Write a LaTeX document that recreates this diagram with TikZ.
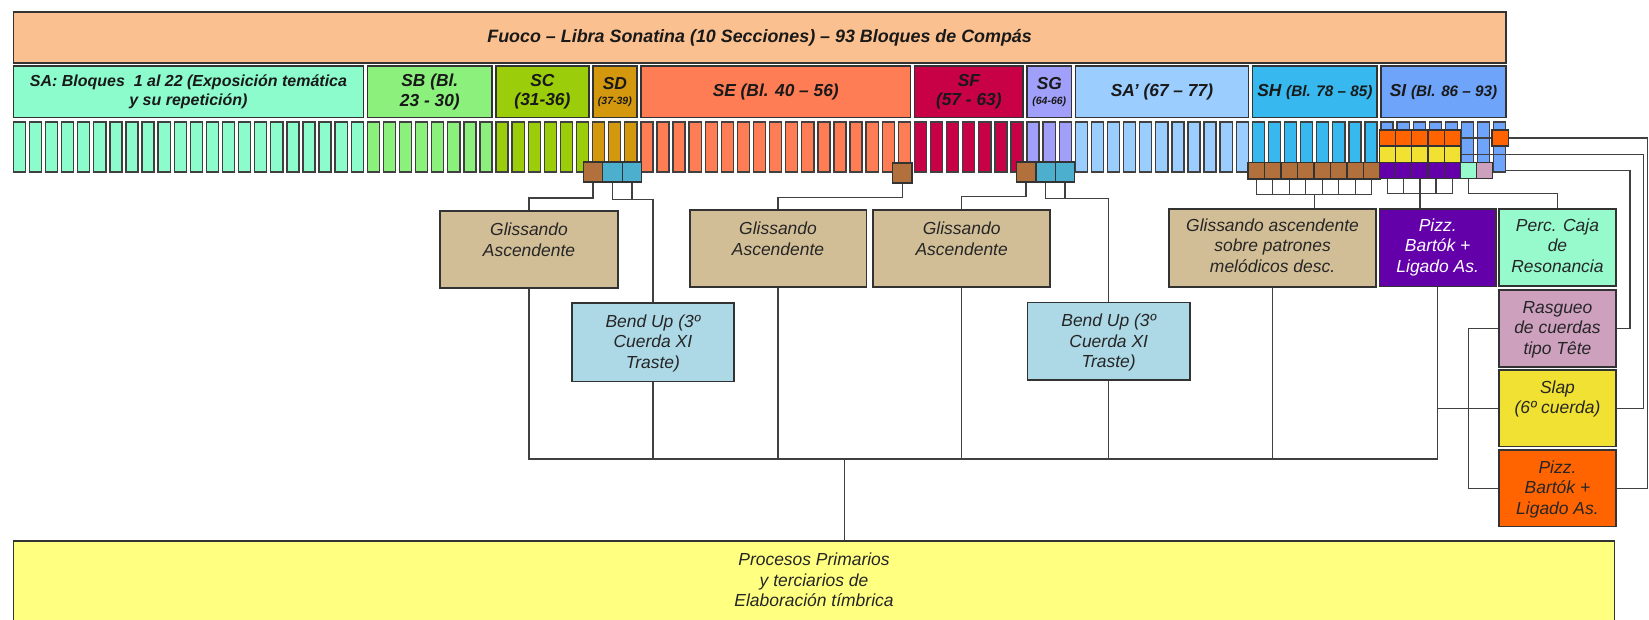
\documentclass[tikz,border=0pt]{standalone}
\usepackage{fontspec}
\setmainfont{Liberation Sans}
\usetikzlibrary{calc}

% section colours
\definecolor{cTitle}{RGB}{250,192,143}
\definecolor{cSA}{RGB}{140,252,205}
\definecolor{cSB}{RGB}{140,240,125}
\definecolor{cSC}{RGB}{155,205,10}
\definecolor{cSD}{RGB}{212,152,15}
\definecolor{cSE}{RGB}{255,125,85}
\definecolor{cSF}{RGB}{200,0,70}
\definecolor{cSG}{RGB}{160,160,250}
\definecolor{cSAp}{RGB}{155,205,255}
\definecolor{cSH}{RGB}{55,185,240}
\definecolor{cSI}{RGB}{110,165,250}
% technique colours
\definecolor{cBrown}{RGB}{178,112,60}
\definecolor{cBlue}{RGB}{75,175,205}
\definecolor{cTan}{RGB}{210,190,150}
\definecolor{cLBlue}{RGB}{173,216,230}
\definecolor{cPurple}{RGB}{100,0,170}
\definecolor{cMint}{RGB}{150,250,205}
\definecolor{cPink}{RGB}{205,160,190}
\definecolor{cYellow}{RGB}{240,225,50}
\definecolor{cOrange}{RGB}{255,100,0}
\definecolor{cProc}{RGB}{255,255,128}

% box text: width, height, first baseline, lines
\newcommand{\bxt}[4]{\parbox[c][#2][t]{#1}{\centering\rule{0pt}{#3}#4}}

\tikzset{
  frame/.style={draw=black!80, line width=1.6pt},
  blk/.style={draw=black!75, line width=1.3pt, minimum width=11.5pt,
    minimum height=47.5pt, inner sep=0pt, anchor=north west},
  sec/.style={frame, inner sep=0pt, anchor=north west, minimum height=49pt,
    font=\bfseries\itshape\fontsize{16.5}{18.5}\selectfont, text=black!90, align=center},
  mk/.style={draw=black!80, line width=1.3pt, inner sep=0pt, anchor=north west,
    minimum width=18.5pt, minimum height=19pt},
  sm/.style={draw=black!80, line width=1.2pt, inner sep=0pt, anchor=north west,
    minimum width=15.5pt, minimum height=15.3pt},
  conn/.style={draw=black!75, line width=1.2pt},
  tbox/.style={frame, inner sep=0pt, anchor=north west,
    font=\itshape\fontsize{16.6}{19.5}\selectfont, text=black!85},
}

\begin{document}
\begin{tikzpicture}[x=1pt, y=-1pt]
\useasboundingbox (0,0) rectangle (1568,589);
\clip (0,0) rectangle (1568,589);
\fill[white] (0,0) rectangle (1568,589);

% title
\node[frame, fill=cTitle, anchor=north west, minimum width=1419pt, minimum height=48.5pt,
  inner sep=0pt, font=\bfseries\itshape\fontsize{17}{20}\selectfont, text=black!90]
  (title) at (12,10.5) {Fuoco – Libra Sonatina (10 Secciones) – 93 Bloques de Compás};

% sections
\node[sec, fill=cSA, minimum width=332.8pt, font=\bfseries\itshape\fontsize{15.2}{18.5}\selectfont]
  (sA) at (12,62) {SA: Bloques\ \ 1 al 22 (Exposición temática\\y su repetición)};
\node[sec, fill=cSB, minimum width=118.6pt] (sB) at (348.6,62) {SB (Bl.\\23 - 30)};
\node[sec, fill=cSC, minimum width=88pt] (sC) at (471,62) {SC\\(31-36)};
\node[sec, fill=cSD, minimum width=42.1pt] (sD) at (562.8,62)
  {SD\\[-4pt]{\fontsize{10}{12}\selectfont(37-39)}};
\node[sec, fill=cSE, minimum width=256.3pt] (sE) at (608.7,62) {SE (Bl. 40 – 56)};
\node[sec, fill=cSF, minimum width=103.3pt] (sF) at (868.8,62) {SF\\(57 - 63)};
\node[sec, fill=cSG, minimum width=42.1pt] (sG) at (975.9,62)
  {SG\\[-4pt]{\fontsize{10}{12}\selectfont(64-66)}};
\node[sec, fill=cSAp, minimum width=164.5pt] (sAp) at (1021.8,62) {SA’ (67 – 77)};
\node[sec, fill=cSH, minimum width=118.6pt] (sH) at (1190.1,62)
  {SH {\fontsize{14.5}{17}\selectfont(Bl. 78 – 85)}};
\node[sec, fill=cSI, minimum width=118.6pt] (sI) at (1312.5,62)
  {SI {\fontsize{14.5}{17}\selectfont(Bl. 86 – 93)}};

% the 93 bar blocks
\foreach \ia/\ib/\col in {1/22/cSA,23/30/cSB,31/36/cSC,37/39/cSD,40/56/cSE,
    57/63/cSF,64/66/cSG,67/77/cSAp,78/85/cSH,86/93/cSI}{
  \foreach \k in {\ia,...,\ib}{
    \node[blk, fill=\col] (b\k) at ({12+(\k-1)*15.3},115.5) {};
  }
}

% technique boxes
\node[tbox, fill=cTan] (g1) at (417.8,199.7)
  {\bxt{168.9pt}{73.5pt}{23.8pt}{Glissando\\Ascendente}};
\node[tbox, fill=cLBlue] (bu1) at (543,287.5)
  {\bxt{154pt}{74.5pt}{23pt}{Bend Up (3º\\Cuerda XI\\Traste)}};
\node[tbox, fill=cTan] (g2) at (655,199)
  {\bxt{168pt}{73pt}{23.5pt}{Glissando\\Ascendente}};
\node[tbox, fill=cTan] (g3) at (829.6,199)
  {\bxt{168.1pt}{73pt}{23.5pt}{Glissando\\Ascendente}};
\node[tbox, fill=cLBlue] (bu2) at (976.3,286.8)
  {\bxt{154.3pt}{73.6pt}{23pt}{Bend Up (3º\\Cuerda XI\\Traste)}};
\node[tbox, fill=cTan] (g4) at (1111,198)
  {\bxt{196.5pt}{74pt}{21.3pt}{Glissando ascendente\\sobre patrones\\melódicos desc.}};
\node[tbox, fill=cPurple, text=white] (pz) at (1311,198)
  {\bxt{110.5pt}{73.6pt}{21.3pt}{Pizz.\\Bartók +\\Ligado As.}};
\node[tbox, fill=cMint] (perc) at (1424.7,198)
  {\bxt{110.9pt}{73pt}{21.3pt}{Perc. Caja\\de\\Resonancia}};
\node[tbox, fill=cPink] (ras) at (1424.7,275)
  {\bxt{110.9pt}{73pt}{22pt}{Rasgueo\\de cuerdas\\tipo Tête}};
\node[tbox, fill=cYellow] (slap) at (1424.7,351.2)
  {\bxt{110.9pt}{72.6pt}{21.8pt}{Slap\\(6º cuerda)}};
\node[tbox, fill=cOrange] (po) at (1424.7,427)
  {\bxt{110.9pt}{72.8pt}{22.4pt}{Pizz.\\Bartók +\\Ligado As.}};
\node[tbox, fill=cProc] (proc) at (12,513.5)
  {\bxt{1522.5pt}{90pt}{23.5pt}{Procesos Primarios\\y terciarios de\\Elaboración tímbrica}};

% markers under the blocks
\node[mk, fill=cBrown] (mD1) at (554,153.5) {};
\node[mk, fill=cBlue] (mD2) at (572.5,153.5) {};
\node[mk, fill=cBlue] (mD3) at (591,153.5) {};
\node[mk, fill=cBrown] (mE) at (848,154.5) {};
\node[mk, fill=cBrown] (mG1) at (965.8,153.5) {};
\node[mk, fill=cBlue] (mG2) at (984.3,153.5) {};
\node[mk, fill=cBlue] (mG3) at (1002.8,153.5) {};
\foreach \j in {1,...,8}{
  \node[sm, minimum width=15.7pt, fill=cBrown] (mH\j) at ({1186+(\j-1)*15.7},154.2) {};
}
\foreach \j in {1,...,5}{
  \node[sm, fill=cOrange] (mO\j) at ({1311+(\j-1)*15.4},123) {};
  \node[sm, fill=cYellow] (mY\j) at ({1311+(\j-1)*15.4},138.5) {};
  \node[sm, fill=cPurple] (mP\j) at ({1311+(\j-1)*15.4},153.8) {};
}
\node[sm, fill=cMint] (mM) at (1388,153.8) {};
\node[sm, fill=cPink] (mK) at (1403.4,153.8) {};

% far-right routing columns and the lower bus
\coordinate (xO) at (1566.8,0);
\coordinate (xY) at (1562.5,0);
\coordinate (xR) at (1550,0);
\coordinate (xB) at (1396,0);
\coordinate (bus) at (0,436.5);
\coordinate (drop) at (803.3,436.5);

% connectors from the markers to the technique boxes
\draw[conn] (mD1.south) -- ++(0,14.5) -| (g1.north);
\draw[conn] (mD2.south) -- ++(0,16) -| (bu1.north);
\draw[conn] (mD3.south) -- ++(0,16);
\draw[conn] (mE.south) -- ++(0,13) -| (g2.north);
\draw[conn] (mG1.south) -- ++(0,13) -| (g3.north);
\draw[conn] (mG2.south) -- ++(0,15) -| (bu2.north);
\draw[conn] (mG3.south) -- ++(0,15);
\foreach \j in {1,...,8}{ \draw[conn] (mH\j.south) -- ++(0,14); }
\draw[conn] ($(mH1.south)+(0,14)$) -- ($(mH8.south)+(0,14)$);
\draw[conn] ($(mH4.south east)+(0,14)$) -- (mH4.south east |- g4.north);
\foreach \j in {1,...,5}{ \draw[conn] (mP\j.south) -- ++(0,14); }
\draw[conn] ($(mP1.south)+(0,14)$) -- ($(mP5.south)+(0,14)$);
\draw[conn] (mP3.south) -- (mP3.south |- pz.north);
\draw[conn] (mM.south) -- ++(0,14) -| (perc.north);

% right-hand routes
\draw[conn] (mO5.east) -| (xO |- po.east) -- (po.east);
\draw[conn] (mY5.east) -| (xY |- slap.east) -- (slap.east);
\draw[conn] (b93.east |- mK.center) -| (xR |- ras.east) -- (ras.east);
\draw[conn] (ras.west) -- (xB |- ras.west) -- (xB |- po.west) -- (po.west);
\draw[conn] (slap.west) -- (pz.south |- slap.west);

% lower bus into the summary box
\draw[conn] (g1.south) -- (g1.south |- bus) -- (pz.south |- bus) -- (pz.south);
\foreach \n in {bu1,g2,g3,bu2,g4}{ \draw[conn] (\n.south) -- (\n.south |- bus); }
\draw[conn] (drop) -- (drop |- proc.north);

% single orange marker on block 93
\node[sm, fill=cOrange] (mOx) at (1418,123) {};
\end{tikzpicture}
\end{document}
